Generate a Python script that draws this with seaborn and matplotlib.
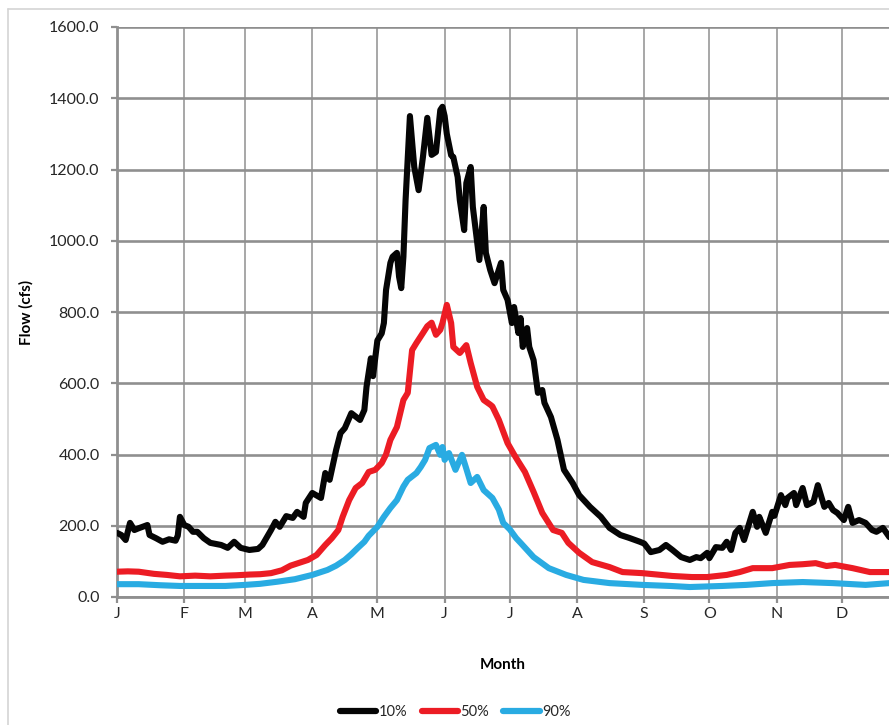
import matplotlib
matplotlib.use("Agg")
import matplotlib.pyplot as plt
from matplotlib.lines import Line2D
import numpy as np
import pandas as pd
import seaborn as sns

# day of year (0 = Jan 1) and flow, cfs
days_10 = [0, 2, 4, 6, 8, 10, 14, 15, 18, 21, 24, 27, 28, 29, 31, 33, 35, 37, 40, 43,
           48, 51, 54, 57, 61, 65, 67, 71, 73, 75, 78, 81, 83, 86, 87, 90, 94, 96, 98,
           101, 103, 105, 108, 112, 114, 115, 117, 118, 120, 122, 123, 124, 126, 127,
           129, 130, 131, 132, 133, 134, 135, 137, 139, 141, 143, 145, 147, 149, 150,
           151, 152, 154, 155, 157, 158, 160, 161, 163, 164, 167, 169, 170, 172, 174,
           177, 178, 180, 182, 183, 185, 186, 187, 189, 190, 192, 194, 196, 197, 200,
           203, 206, 210, 213, 218, 223, 227, 232, 236, 241, 243, 246, 250, 253, 256,
           260, 264, 267, 269, 272, 273, 276, 279, 281, 283, 285, 287, 289, 293, 295,
           296, 299, 302, 303, 306, 308, 309, 312, 313, 316, 318, 321, 323, 326, 328,
           330, 332, 335, 337, 339, 342, 345, 348, 350, 353, 356]
flow_10 = [180, 174, 160, 208, 188, 193, 202, 174, 165, 155, 162, 158, 172, 225, 202, 197,
           183, 183, 165, 152, 146, 138, 155, 138, 132, 135, 146, 188, 211, 197, 227, 222,
           239, 225, 264, 292, 278, 348, 329, 413, 460, 474, 516, 497, 525, 590, 670, 620,
           720, 740, 769, 862, 938, 955, 966, 899, 867, 955, 1114, 1235, 1350, 1207, 1142,
           1235, 1345, 1241, 1249, 1367, 1376, 1350, 1300, 1240, 1235, 1179, 1114, 1030,
           1162, 1207, 1095, 946, 1095, 966, 918, 881, 938, 862, 834, 769, 814, 741, 783,
           702, 755, 702, 665, 573, 581, 545, 505, 441, 357, 320, 286, 253, 225, 194, 174,
           166, 155, 150, 126, 132, 146, 132, 112, 104, 112, 109, 124, 109, 140, 138, 155,
           132, 180, 194, 160, 239, 197, 225, 180, 239, 228, 286, 258, 278, 292, 258, 306,
           258, 267, 314, 253, 264, 244, 236, 216, 253, 208, 216, 208, 188, 183, 194, 168]

days_50 = [0, 5, 10, 17, 23, 29, 36, 43, 50, 55, 61, 66, 71, 76, 80, 84, 88, 92, 96, 99,
           102, 104, 107, 110, 113, 116, 119, 122, 124, 126, 129, 132, 134, 136, 138,
           141, 143, 145, 147, 149, 150, 152, 154, 155, 158, 161, 163, 166, 169, 172,
           173, 176, 180, 183, 185, 188, 192, 196, 201, 205, 208, 213, 219, 227, 233,
           242, 256, 265, 272, 281, 287, 293, 302, 310, 316, 322, 327, 331, 339, 347, 356]
flow_50 = [71, 72, 71, 65, 62, 58, 60, 58, 60, 61, 63, 64, 67, 75, 88, 96, 104, 118, 146,
           165, 188, 225, 272, 306, 320, 351, 357, 376, 400, 441, 477, 553, 573, 693, 713,
           741, 760, 770, 736, 750, 769, 820, 769, 702, 685, 707, 657, 590, 553, 540, 535,
           497, 432, 400, 380, 351, 295, 236, 188, 180, 152, 124, 98, 84, 70, 67, 59, 56,
           56, 62, 70, 81, 81, 90, 92, 95, 87, 90, 81, 70, 70]

days_90 = [0, 10, 20, 29, 40, 50, 59, 66, 74, 82, 90, 97, 101, 105, 108, 111, 114, 116,
           120, 123, 126, 129, 132, 134, 138, 140, 142, 144, 147, 149, 150, 151, 153, 156,
           159, 161, 163, 166, 169, 173, 176, 178, 181, 184, 186, 192, 199, 207, 215, 227,
           242, 255, 264, 279, 290, 302, 316, 330, 345, 356]
flow_90 = [36, 36, 33, 31, 31, 31, 34, 37, 43, 50, 62, 76, 88, 104, 120, 138, 155, 172,
           197, 225, 250, 272, 310, 329, 348, 365, 385, 418, 427, 399, 421, 385, 404, 357,
           399, 360, 320, 337, 300, 278, 245, 208, 190, 165, 152, 112, 81, 62, 48, 39, 34,
           31, 28, 31, 34, 39, 42, 39, 34, 39]

series_names = ["10%", "50%", "90%"]
series_colors = ["#050505", "#ec1c24", "#29abe2"]
month_labels = ["J", "F", "M", "A", "M", "J", "J", "A", "S", "O", "N", "D"]
month_starts = [0, 31, 59, 90, 120, 151, 181, 212, 243, 273, 304, 334]
y_ticks = [0, 200, 400, 600, 800, 1000, 1200, 1400, 1600]

frames = []
for name, d, f in zip(series_names, [days_10, days_50, days_90], [flow_10, flow_50, flow_90]):
    frames.append(pd.DataFrame({"day": d, "flow": f, "series": name}))
df = pd.concat(frames, ignore_index=True)

sns.set_theme(style="white")
plt.rcParams["font.family"] = ["Lato", "DejaVu Sans"]

grid_col = "#8f8f8f"
text_col = "#262626"

fig = plt.figure(figsize=(8.89, 7.25), dpi=100)
ax = fig.add_axes([117 / 889, 1 - 597 / 725, 1 - 117 / 889, (597 - 27) / 725])

sns.lineplot(data=df, x="day", y="flow", hue="series", hue_order=series_names,
             palette=series_colors, estimator=None, sort=False, linewidth=4.4,
             ax=ax, zorder=3)

ax.set_xlim(0, 355.8)
ax.set_ylim(0, 1600)
ax.set_xticks(month_starts)
ax.set_xticklabels(month_labels)
ax.set_yticks(y_ticks)
ax.set_yticklabels([f"{v:.1f}" for v in y_ticks])

ax.set_axisbelow(True)
ax.yaxis.grid(True, color=grid_col, linewidth=1.9)
ax.xaxis.grid(True, color=grid_col, linewidth=1.1)
for side in ["top", "right"]:
    ax.spines[side].set_visible(False)
for side in ["left", "bottom"]:
    ax.spines[side].set_color(grid_col)
    ax.spines[side].set_linewidth(2.0)

ax.tick_params(axis="x", bottom=True, length=4, width=1.6, color=grid_col,
               labelsize=11.5, labelcolor=text_col, pad=3)
ax.tick_params(axis="y", left=True, length=4.5, width=1.6, color=grid_col,
               labelsize=11.5, labelcolor=text_col, pad=8)

ax.set_xlabel("Month", fontsize=11, fontweight="bold", color="black", labelpad=27)
ax.set_ylabel("Flow (cfs)", fontsize=11, fontweight="bold", color="black", labelpad=11)

sns.move_legend(ax, "center", bbox_to_anchor=(0.438, -0.202), ncol=3, title=None,
                frameon=False, fontsize=10.5, handlelength=2.5, handletextpad=0.15,
                columnspacing=1.0)
for txt in ax.get_legend().get_texts():
    txt.set_color(text_col)
for h in ax.get_legend().legend_handles:
    h.set_linewidth(4.5)

# outer chart border (left and top edges are visible in the crop)
border = "#d4d4d4"
fig.add_artist(Line2D([8 / 889, 8 / 889], [0, 1 - 9 / 725], color=border, linewidth=1.2))
fig.add_artist(Line2D([8 / 889, 1], [1 - 9 / 725, 1 - 9 / 725], color=border, linewidth=1.2))

fig.savefig("out.png", dpi=100)
plt.close(fig)
